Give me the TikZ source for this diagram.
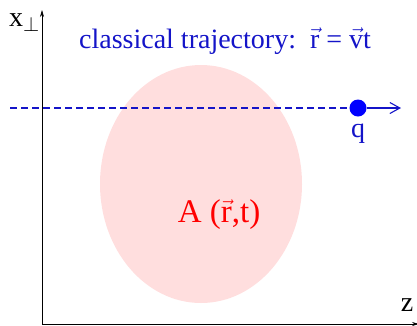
\documentclass[tikz,border=0pt]{standalone}
\usepackage{amsmath}
\usepackage{fontspec}
\setmainfont{Liberation Serif}
\usetikzlibrary{positioning,arrows.meta}
\definecolor{trajblue}{HTML}{1414C8}
\definecolor{pinkfill}{HTML}{FFDEDE}
\definecolor{potred}{HTML}{FF0000}

\begin{document}
\begin{tikzpicture}[x=1pt,y=-1pt,
  axis/.style={draw=black,line width=0.6pt,-{Stealth[length=7pt,width=4pt]}},
  traj/.style={draw=trajblue,line width=1.1pt,dashed,dash pattern=on 7pt off 4pt},
  lbl/.style={inner sep=0pt,font=\fontsize{28}{30}\selectfont}]
\useasboundingbox (0,0) rectangle (417,325);
% potential region
\fill[pinkfill] (201,184) ellipse [x radius=101,y radius=119];
% axes
\coordinate (origin) at (42,324);
\coordinate (xtop) at (42,10);
\coordinate (zend) at (419,324);
\draw[axis] (origin) -- (xtop);
\draw[axis] (origin) -- (zend);
\node[lbl,anchor=base west] (xperp) at (9,26) {x$_\perp$};
\node[lbl,anchor=base] (zlbl) at (407,311) {z};
% trajectory and charge
\coordinate (start) at (10,108);
\coordinate (arrowend) at (401,108);
\node[circle,fill=blue,inner sep=0pt,minimum size=17pt] (charge) at (358,108) {};
\draw[traj] (start) -- (charge);
\draw[trajblue,line width=1.1pt,-{Straight Barb[length=10pt,width=11pt]}] (charge) -- (arrowend);
\node[lbl,text=trajblue,below=7pt of charge] (q) {q};
\node[lbl,text=trajblue,anchor=base] (title) at (225,48) {classical trajectory:\, $\vec{\text{r}}$ = $\vec{\text{v}}$t};
\node[lbl,text=potred,anchor=base,font=\fontsize{33}{35}\selectfont] (field) at (219,222) {A ($\vec{\text{r}}$,t)};
\end{tikzpicture}
\end{document}
